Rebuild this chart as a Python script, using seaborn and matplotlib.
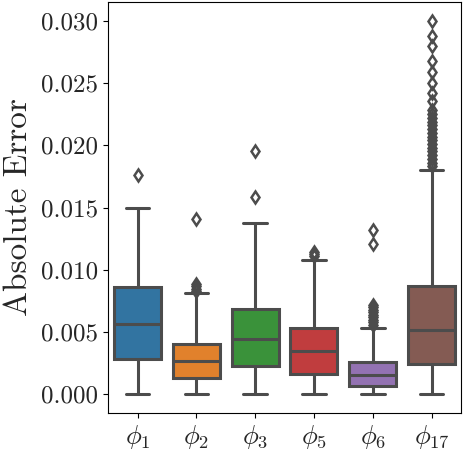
import numpy as np
import pandas as pd
import matplotlib
matplotlib.use("Agg")
import matplotlib.pyplot as plt
import seaborn as sns

# values (one box per feature)
labels = [r"$\phi_1$", r"$\phi_2$", r"$\phi_3$", r"$\phi_5$", r"$\phi_6$", r"$\phi_{17}$"]
whisker_lo = [0.0, 0.0, 0.0, 0.0, 0.0, 0.0]
q1 = [0.00282, 0.00133, 0.00226, 0.00165, 0.00069, 0.00248]
median = [0.00565, 0.00266, 0.00448, 0.00352, 0.00152, 0.00520]
q3 = [0.00861, 0.00408, 0.00688, 0.00536, 0.00261, 0.00872]
whisker_hi = [0.01500, 0.00816, 0.01376, 0.01080, 0.00536, 0.01800]
fliers = [
    [0.0176],
    [0.0083, 0.0085, 0.0087, 0.0089, 0.01405],
    [0.01586, 0.01952],
    [0.0111, 0.01125, 0.0114],
    [0.0056, 0.0058, 0.0060, 0.0062, 0.0064, 0.0066, 0.0068, 0.0070,
     0.0072, 0.01208, 0.01322],
    [0.0183, 0.0186, 0.0189, 0.0192, 0.0195, 0.0198, 0.0201, 0.0204,
     0.0207, 0.0210, 0.0213, 0.0216, 0.0219, 0.0222, 0.0225, 0.0228,
     0.02354, 0.02421, 0.02501, 0.02586, 0.02680, 0.02800, 0.02880, 0.0300],
]


def sample_from_stats(lo, a, m, b, hi, out):
    """Build a small sample whose boxplot stats are exactly (lo, a, m, b, hi)."""
    k = len(out) + 1
    vals = [lo] + [a] * k + [m] * k + [b] * k + [hi] + list(out)
    return vals


rows = []
for i, lab in enumerate(labels):
    for v in sample_from_stats(whisker_lo[i], q1[i], median[i], q3[i],
                               whisker_hi[i], fliers[i]):
        rows.append((lab, v))
df = pd.DataFrame(rows, columns=["feature", "error"])

sns.set_style("ticks")
plt.rcParams["font.family"] = "serif"
plt.rcParams["font.serif"] = ["cmr10", "DejaVu Serif"]
plt.rcParams["mathtext.fontset"] = "cm"
plt.rcParams["axes.formatter.use_mathtext"] = True
plt.rcParams["axes.unicode_minus"] = False

gray = "#4c4c4c"
fig, ax = plt.subplots(figsize=(4.64, 4.5), dpi=100)
sns.boxplot(data=df, x="feature", y="error", hue="feature", palette="tab10",
            order=labels, legend=False, linewidth=2.2, linecolor=gray, width=0.8,
            flierprops=dict(marker="d", markersize=6, markerfacecolor="none",
                            markeredgecolor=gray, markeredgewidth=1.8),
            ax=ax)

for s in ax.spines.values():
    s.set_visible(True)
    s.set_color("black")
ax.set_xlabel("")
ax.set_ylabel("Absolute Error", fontsize=24, labelpad=6)
ax.set_yticks([0.0, 0.005, 0.01, 0.015, 0.02, 0.025, 0.03])
ax.set_yticklabels(["0.000", "0.005", "0.010", "0.015", "0.020", "0.025", "0.030"])
ax.tick_params(axis="both", labelsize=18, color="black")
ax.tick_params(axis="x", labelsize=19)

fig.subplots_adjust(left=0.233, right=0.9935, bottom=0.082, top=0.9956)
fig.savefig("out.png", dpi=100)
